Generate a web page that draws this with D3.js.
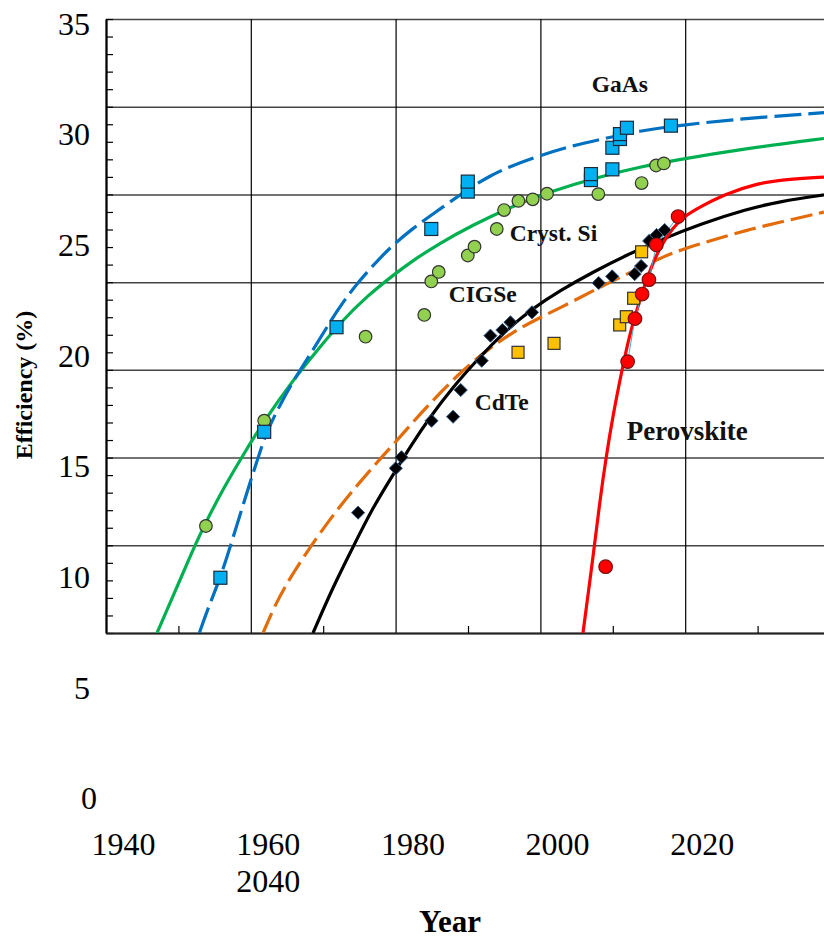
<!DOCTYPE html>
<html>
<head>
<meta charset="utf-8">
<script src="https://cdn.jsdelivr.net/npm/d3@7"></script>
<style>
  body { margin: 0; background: #fff; }
  svg { display: block; font-family: "Liberation Serif", "Times New Roman", serif; }
</style>
</head>
<body>
<svg width="824" height="939"></svg>
<script>
// record cells, [year, efficiency %]
let gaasPts = [[1955.8,3.15],[1961.85,11.47],[1971.84,17.43],[1984.93,23.03],[1989.97,25.16],[1989.97,25.73],
  [2006.98,25.82],[2006.98,26.16],[2009.94,26.43],[2009.94,27.66],[2010.99,28.16],[2010.99,28.44],[2011.95,28.8],[2018.03,28.92]];
let siPts = [[1953.8,6.1],[1961.85,12.1],[1975.85,16.89],[1983.96,18.13],[1984.93,20.04],[1985.96,20.58],[1989.97,21.52],
  [1990.9,22.02],[1993.97,23.03],[1994.98,24.11],[1996.96,24.63],[1998.94,24.72],[2000.91,25.04],[2008.0,25.02],
  [2013.98,25.65],[2015.98,26.65],[2017.05,26.77]];
let cdtePts = [[1974.82,6.86],[1980.03,9.39],[1980.81,10.02],[1984.96,12.1],[1987.94,12.33],[1989.0,13.85],[1991.9,15.52],
  [1993.1,16.95],[1994.75,17.27],[1995.86,17.71],[1998.84,18.28],[2008.05,19.95],[2009.91,20.33],[2013.02,20.46],
  [2013.91,20.92],[2015.02,22.35],[2016.05,22.69],[2017.16,22.97]];
let cigsPts = [[1996.91,16.0],[2001.88,16.51],[2010.95,17.56],[2011.87,18.03],[2012.88,19.08],[2013.98,21.73]];
let perovPts = [[2009.01,3.78],[2012.05,15.47],[2013.06,17.92],[2014.05,19.32],[2014.99,20.14],[2016.02,22.13],[2019.02,23.74]];

// fitted trend curves
let gaasFit = [[1952.89,0],[1954.36,1.71],[1955.75,3.08],[1957.54,5.42],[1959.48,8.04],[1960.86,9.8],[1962.1,11.4],
  [1964.03,13.0],[1965.83,14.36],[1968.59,16.13],[1970.94,17.73],[1972.73,18.87],[1975.08,20.12],[1977.43,21.2],
  [1979.64,22.12],[1982.27,23.03],[1985.17,23.89],[1988.9,24.97],[1990.69,25.48],[1993.04,26.05],[1995.39,26.53],
  [1999.94,27.22],[2004.5,27.79],[2009.2,28.22],[2013.76,28.62],[2018.31,28.9],[2028.26,29.34],[2039.17,29.66]];
let siFit = [[1947.04,0],[1949.81,2.62],[1952.29,5.02],[1953.95,6.44],[1956.02,8.09],[1958.51,9.86],[1961.82,12.08],
  [1965.83,14.42],[1969.56,16.3],[1972.32,17.67],[1976.05,19.21],[1980.06,20.52],[1982.27,21.2],[1986.13,22.23],
  [1990.69,23.26],[1995.39,24.19],[1999.94,24.94],[2004.5,25.56],[2009.2,26.11],[2013.76,26.56],[2018.31,26.93],
  [2028.26,27.61],[2039.17,28.19]];
let cigsFit = [[1961.69,0],[1963.34,1.6],[1965.41,3.14],[1967.49,4.45],[1969.56,5.7],[1972.32,7.24],[1975.08,8.61],
  [1977.85,9.92],[1980.61,11.17],[1983.37,12.48],[1986.13,13.68],[1989.31,14.99],[1992.62,16.13],[1996.22,17.16],
  [1999.53,17.9],[2004.09,18.81],[2008.23,19.72],[2011.96,20.46],[2016.52,21.37],[2019.28,21.83],[2023.84,22.4],
  [2028.54,22.97],[2033.09,23.42],[2039.17,23.99]];
let cdteFit = [[1968.59,0],[1971.35,2.62],[1974.12,4.9],[1976.88,7.18],[1980.06,9.29],[1981.99,10.6],[1984.75,12.31],
  [1987.93,14.02],[1991.24,15.56],[1994.83,17.1],[1998.98,18.52],[2002.71,19.52],[2007.27,20.58],[2011.96,21.55],
  [2016.52,22.4],[2022.04,23.31],[2028.54,24.17],[2033.09,24.6],[2039.17,24.97]];
let perovFit = [[2005.88,0],[2007.4,4.73],[2008.23,7.58],[2009.06,9.98],[2010.03,12.43],[2011.27,14.99],[2012.24,16.87],
  [2013.2,18.24],[2014.17,19.55],[2015.14,20.69],[2016.52,22.0],[2018.31,23.14],[2020.11,23.82],[2022.04,24.28],
  [2025.22,24.97],[2029.92,25.65],[2034.48,25.88],[2039.17,25.99]];

let yTicks = [0,5,10,15,20,25,30,35];
let xTicks = [1940,1960,1980,2000,2020];
let xTickWrapped = [2040];

let labels = [
  {text:'GaAs', at:[2007.08,30.84], big:false},
  {text:'Cryst. Si', at:[1995.76,22.35], big:false},
  {text:'CIGSe', at:[1987.34,18.87], big:false},
  {text:'CdTe', at:[1990.93,12.71], big:false},
  {text:'Perovskite', at:[2011.93,11.0], big:true}
];

let svg = d3.select('svg');
let pL = 106, pR = 830, pT = 19, pB = 633;

let x = d3.scaleLinear().domain([1940,2040]).range([pL,pR]);
let y = d3.scaleLinear().domain([0,35]).range([pB,pT]);
// tick labels in the source sit off the grid
let yLab = d3.scaleLinear().domain([0,35]).range([798.5,23.8]);
let xLab = d3.scaleLinear().domain([1940,2040]).range([123.5,847]);

svg.append('clipPath').attr('id','plot')
  .append('rect').attr('x',pL).attr('y',pT-2).attr('width',pR-pL).attr('height',pB-pT+2);

// grid
svg.append('g')
  .attr('transform',`translate(${pL},0)`)
  .call(d3.axisLeft(y).tickValues(yTicks).tickSize(-(pR-pL)).tickFormat(''))
  .call(g => g.select('.domain').remove())
  .call(g => g.selectAll('line').attr('stroke','#444').attr('stroke-width',1.5));
svg.append('g')
  .attr('transform',`translate(0,${pB})`)
  .call(d3.axisBottom(x).tickValues(d3.range(1940,2041,20)).tickSize(-(pB-pT)).tickFormat(''))
  .call(g => g.select('.domain').remove())
  .call(g => g.selectAll('line').attr('stroke','#000').attr('stroke-width',1.2));

// minor ticks + axis lines
svg.append('g')
  .attr('transform',`translate(${pL},0)`)
  .call(d3.axisLeft(y).tickValues(d3.range(0,36,1)).tickSize(-7).tickSizeOuter(0).tickFormat(''))
  .call(g => g.select('.domain').attr('stroke','#000').attr('stroke-width',2.2))
  .call(g => g.selectAll('line').attr('stroke','#000').attr('stroke-width',1.2));
svg.append('g')
  .attr('transform',`translate(0,${pB})`)
  .call(d3.axisBottom(x).tickValues(d3.range(1950,2041,20)).tickSize(-7).tickSizeOuter(0).tickFormat(''))
  .call(g => g.select('.domain').attr('stroke','#222').attr('stroke-width',2.2))
  .call(g => g.selectAll('line').attr('stroke','#000').attr('stroke-width',1.2));

// fit curves
let line = d3.line().x(d => x(d[0])).y(d => y(d[1])).curve(d3.curveBasis);
let plot = svg.append('g').attr('clip-path','url(#plot)');
let fits = [
  {d: siFit, color:'#00b050', dash:null},
  {d: gaasFit, color:'#0070c0', dash:'27,7'},
  {d: cigsFit, color:'#e36c0a', dash:'22,7'},
  {d: cdteFit, color:'#000000', dash:null},
  {d: perovFit, color:'#ff0000', dash:null}
];
fits.forEach(f => {
  plot.append('path').datum(f.d)
    .attr('d',line).attr('fill','none')
    .attr('stroke',f.color).attr('stroke-width',3.2)
    .attr('stroke-dasharray',f.dash);
});

// thin connector under the later perovskite points
plot.append('path').datum(perovPts.slice(1))
  .attr('d',d3.line().x(d => x(d[0])).y(d => y(d[1])))
  .attr('fill','none').attr('stroke','#4bacc6').attr('stroke-width',1);

// markers
let sq = 13;
plot.selectAll('.si').data(siPts).join('circle')
  .attr('cx',d => x(d[0])).attr('cy',d => y(d[1])).attr('r',6.3)
  .attr('fill','#92d050').attr('stroke','#333').attr('stroke-width',1.2);
plot.selectAll('.gaas').data(gaasPts).join('rect')
  .attr('x',d => x(d[0])-sq/2).attr('y',d => y(d[1])-sq/2).attr('width',sq).attr('height',sq)
  .attr('fill','#00b0f0').attr('stroke','#1b2a3a').attr('stroke-width',1.2);
plot.selectAll('.cdte').data(cdtePts).join('path')
  .attr('d',d3.symbol(d3.symbolDiamond2,110))
  .attr('transform',d => `translate(${x(d[0])},${y(d[1])})`)
  .attr('fill','#000').attr('stroke','#2f5b8a').attr('stroke-width',1);
plot.selectAll('.cigs').data(cigsPts).join('rect')
  .attr('x',d => x(d[0])-6).attr('y',d => y(d[1])-6).attr('width',12).attr('height',12)
  .attr('fill','#ffc000').attr('stroke','#333').attr('stroke-width',1.2);
plot.selectAll('.perov').data(perovPts).join('circle')
  .attr('cx',d => x(d[0])).attr('cy',d => y(d[1])).attr('r',6.8)
  .attr('fill','#ff0000').attr('stroke','#7a1010').attr('stroke-width',1.2);

// material labels
svg.selectAll('.lbl').data(labels).join('text')
  .attr('x',d => x(d.at[0])).attr('y',d => y(d.at[1]))
  .attr('font-weight','bold').attr('font-size',d => d.big ? 27 : 23.5)
  .attr('fill','#111').text(d => d.text);

// tick labels
svg.selectAll('.ylab').data(yTicks).join('text')
  .attr('x',d => d === 0 ? 97 : 90).attr('y',d => yLab(d)).attr('dy','0.34em')
  .attr('text-anchor','end').attr('font-size',32).text(d => d);
svg.selectAll('.xlab').data(xTicks).join('text')
  .attr('x',d => xLab(d)).attr('y',855)
  .attr('text-anchor','middle').attr('font-size',32).text(d => d);
svg.selectAll('.xlab2').data(xTickWrapped).join('text')
  .attr('x',xLab(1960)).attr('y',892)
  .attr('text-anchor','middle').attr('font-size',32).text(d => d);

// axis titles
svg.append('text').attr('x',450).attr('y',932).attr('text-anchor','middle')
  .attr('font-weight','bold').attr('font-size',31).text('Year');
svg.append('text').attr('transform','translate(32,385) rotate(-90)').attr('text-anchor','middle')
  .attr('font-weight','bold').attr('font-size',24).text('Efficiency (%)');
</script>
</body>
</html>
